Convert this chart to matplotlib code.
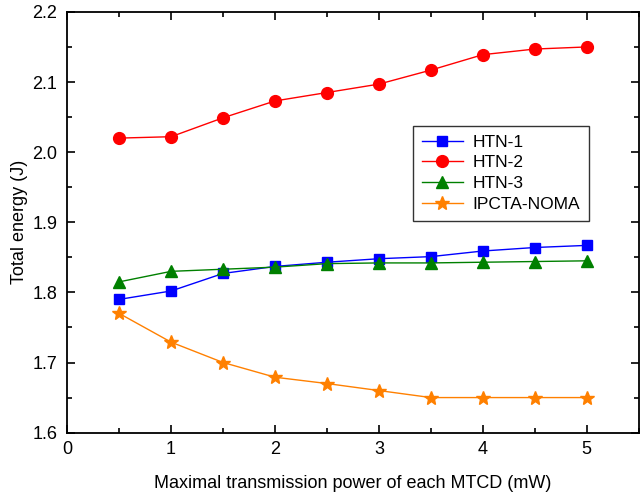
import numpy as np
import matplotlib.pyplot as plt
from matplotlib.ticker import MultipleLocator

plt.rcParams['font.family'] = ['Liberation Sans', 'DejaVu Sans']

# 数据
power = [0.5, 1.0, 1.5, 2.0, 2.5, 3.0, 3.5, 4.0, 4.5, 5.0]
htn1 = [1.790, 1.802, 1.827, 1.837, 1.843, 1.848, 1.851, 1.859, 1.864, 1.867]
htn2 = [2.020, 2.022, 2.049, 2.073, 2.085, 2.097, 2.117, 2.139, 2.147, 2.150]
htn3 = [1.815, 1.830, 1.833, 1.836, 1.841, 1.842, 1.842, 1.843, 1.844, 1.845]
ipcta = [1.770, 1.729, 1.700, 1.679, 1.670, 1.660, 1.650, 1.650, 1.650, 1.650]

fig = plt.figure(figsize=(6.4, 4.95), dpi=100)
ax = fig.add_axes([0.105, 0.126, 0.893, 0.850])

ax.plot(power, htn1, '-s', color='#0000ff', lw=1, ms=7, label='HTN-1')
ax.plot(power, htn2, '-o', color='#ff0000', lw=1, ms=8.5, label='HTN-2')
ax.plot(power, htn3, '-^', color='#008000', lw=1, ms=8.5, label='HTN-3')
ax.plot(power, ipcta, '-*', color='#ff8000', lw=1, ms=10, label='IPCTA-NOMA')

ax.set_xlim(0, 5.5)
ax.set_ylim(1.6, 2.2)
ax.xaxis.set_major_locator(MultipleLocator(1))
ax.xaxis.set_minor_locator(MultipleLocator(0.5))
ax.yaxis.set_major_locator(MultipleLocator(0.1))
ax.yaxis.set_minor_locator(MultipleLocator(0.05))
ax.set_xticks([0, 1, 2, 3, 4, 5])
ax.set_yticks([1.6, 1.7, 1.8, 1.9, 2.0, 2.1, 2.2])
ax.tick_params(which='both', direction='in', top=True, right=True, labelsize=13, width=1.2)
ax.tick_params(which='major', length=6)
ax.tick_params(which='minor', length=3.5)
ax.tick_params(axis='x', which='major', pad=6)
ax.tick_params(axis='y', which='major', pad=7)
for s in ax.spines.values():
    s.set_linewidth(1.3)

ax.set_xlabel('Maximal transmission power of each MTCD (mW)', fontsize=13, labelpad=12)
ax.set_ylabel('Total energy (J)', fontsize=13, labelpad=3)

leg = ax.legend(loc='upper left', bbox_to_anchor=(0.605, 0.729), borderaxespad=0,
                fontsize=12.5, fancybox=False, edgecolor='#333333', framealpha=1,
                handlelength=2.4, handletextpad=0.55, labelspacing=0.32, borderpad=0.5)
leg.get_frame().set_linewidth(1)

fig.savefig('out.png', dpi=100)
